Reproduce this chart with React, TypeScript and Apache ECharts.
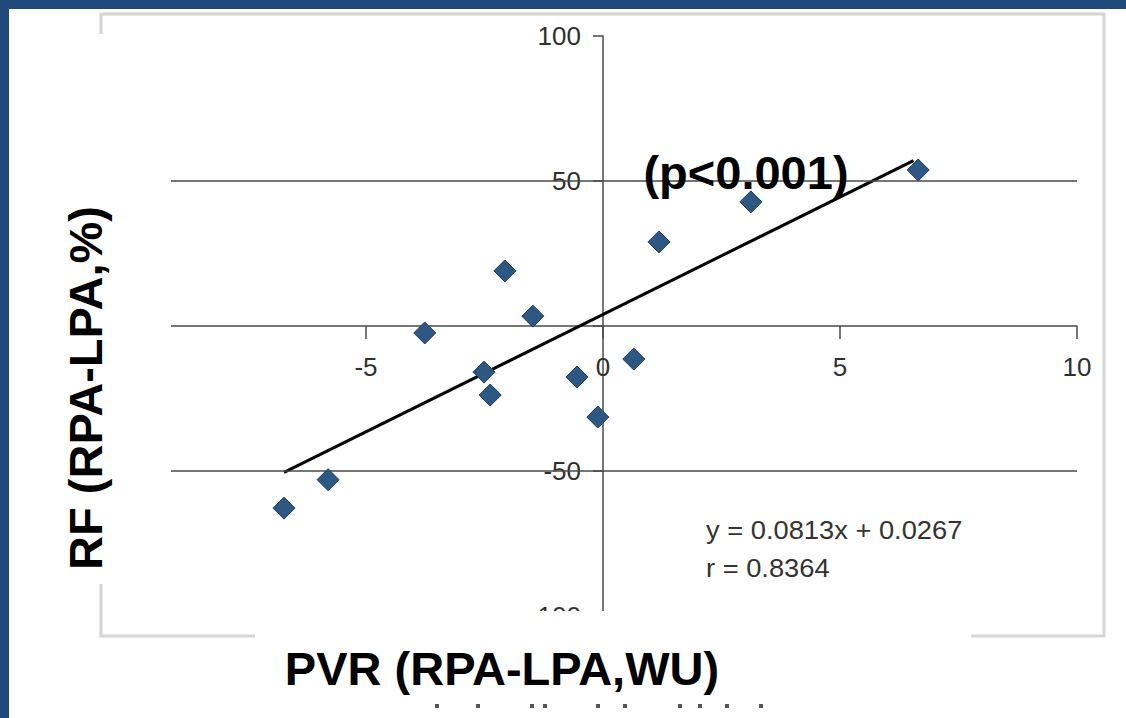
import React, { useEffect, useRef } from "react";
import * as echarts from "echarts";

// PVR difference (RPA-LPA, WU) and RF difference (RPA-LPA, %)
const pvrDiff = [-6.73, -5.8, -3.76, -2.07, -1.48, -2.51, -2.38, -0.55, -0.11, 0.65, 1.18, 3.12, 6.65];
const rfDiff = [-62.8, -53, -2.4, 19, 3.4, -15.9, -23.8, -17.6, -31.4, -11.4, 29, 42.8, 53.8];
// regression line end points (y = 0.0813x + 0.0267)
const trendX = [-6.73, 6.55];
const trendY = [-50.5, 57];
const gridLevels = [-50, 50];
const equationText = "y = 0.0813x + 0.0267";
const rText = "r = 0.8364";
const pText = "(p<0.001)";
const xTitle = "PVR (RPA-LPA,WU)";
const yTitle = "RF (RPA-LPA,%)";
// remnants of a cropped caption under the title
const crumbX = [437, 478, 532, 545, 598, 625, 680, 700, 727, 761];

const GRID = { left: 129, right: 49, top: 36, bottom: 102 };
const W = 1126;
const H = 718;

export default function App() {
  const ref = useRef<HTMLDivElement>(null);
  useEffect(() => {
    if (!ref.current) return;
    const chart = echarts.init(ref.current, null, { renderer: "svg" });
    const points = pvrDiff.map((x, i) => [x, rfDiff[i]]);
    const trend = trendX.map((x, i) => [x, trendY[i]]);
    const titleFont = 'bold 47px "Liberation Sans", Arial, sans-serif';
    const labelFont = '"Liberation Sans", Arial, sans-serif';
    // axes cross at the origin: shift each axis from the grid edge to the zero line
    const xMin = -10, xMax = 10, yMin = -100, yMax = 100;
    const plotW = W - GRID.left - GRID.right;
    const plotH = H - GRID.top - GRID.bottom;
    const yAxisOffset = -((0 - xMin) / (xMax - xMin)) * plotW;
    const xAxisOffset = -((0 - yMin) / (yMax - yMin)) * plotH;
    chart.setOption({
      animation: false,
      backgroundColor: "#ffffff",
      grid: { ...GRID, containLabel: false, outerBoundsMode: "none" },
      xAxis: {
        type: "value",
        min: xMin,
        max: xMax,
        interval: 5,
        position: "bottom",
        offset: xAxisOffset,
        axisLine: { onZero: false, lineStyle: { color: "#4a4a4a", width: 1.5 } },
        axisTick: { show: true, length: 13, lineStyle: { color: "#4a4a4a", width: 1.5 } },
        axisLabel: { margin: 28, color: "#2f2f2f", fontSize: 26, fontFamily: labelFont },
        splitLine: { show: false },
      },
      yAxis: {
        type: "value",
        min: yMin,
        max: yMax,
        interval: 50,
        position: "left",
        offset: yAxisOffset,
        axisLine: { onZero: false, lineStyle: { color: "#4a4a4a", width: 1.5 } },
        axisTick: { show: true, length: 10, lineStyle: { color: "#4a4a4a", width: 1.5 } },
        axisLabel: {
          margin: 22,
          color: "#2f2f2f",
          fontSize: 26,
          fontFamily: labelFont,
          formatter: (v: number) => (v === 0 ? "" : String(v)),
        },
        splitLine: { show: false },
      },
      series: [
        {
          type: "scatter",
          data: points,
          symbol: "diamond",
          symbolSize: 22,
          itemStyle: { color: "#2d5884", borderColor: "#1c3d60", borderWidth: 1, opacity: 1 },
          z: 5,
          markLine: {
            silent: true,
            symbol: "none",
            label: { show: false },
            lineStyle: { color: "#4a4a4a", width: 1.5, type: "solid" },
            data: gridLevels.map((v) => ({ yAxis: v })),
          },
        },
        {
          type: "line",
          data: trend,
          showSymbol: false,
          symbol: "none",
          lineStyle: { color: "#000", width: 3 },
          z: 4,
        },
      ],
      graphic: [
        {
          type: "rect",
          z: -1,
          shape: { x: 101, y: 14, width: 1003, height: 622 },
          style: { fill: "none", stroke: "#d6d6d6", lineWidth: 3 },
        },
        {
          type: "rect",
          z: 100,
          shape: { x: 20, y: 34, width: 151, height: 550 },
          style: { fill: "#ffffff" },
        },
        {
          type: "rect",
          z: 100,
          shape: { x: 255, y: 611, width: 716, height: 86 },
          style: { fill: "#ffffff" },
        },
        ...crumbX.map((cx) => ({
          type: "rect",
          z: 105,
          shape: { x: cx - 2, y: 704, width: 4, height: 4 },
          style: { fill: "#555" },
        })),
        {
          type: "text",
          z: 110,
          x: 85,
          y: 388,
          rotation: Math.PI / 2,
          style: { text: yTitle, font: titleFont, fill: "#000", textAlign: "center", textVerticalAlign: "middle" },
        },
        {
          type: "text",
          z: 110,
          x: 502,
          y: 668,
          style: { text: xTitle, font: titleFont, fill: "#000", textAlign: "center", textVerticalAlign: "middle" },
        },
        {
          type: "text",
          z: 110,
          x: 746,
          y: 172,
          style: { text: pText, font: titleFont, fill: "#000", textAlign: "center", textVerticalAlign: "middle" },
        },
        {
          type: "text",
          z: 110,
          x: 706,
          y: 530,
          scaleX: 1.05,
          style: { text: equationText, font: '26px "Liberation Sans", Arial, sans-serif', fill: "#333", textAlign: "left", textVerticalAlign: "middle" },
        },
        {
          type: "text",
          z: 110,
          x: 706,
          y: 568,
          scaleX: 1.05,
          style: { text: rText, font: '26px "Liberation Sans", Arial, sans-serif', fill: "#333", textAlign: "left", textVerticalAlign: "middle" },
        },
        {
          type: "rect",
          z: 200,
          shape: { x: 0, y: 0, width: W, height: 9 },
          style: { fill: "#1f497d" },
        },
        {
          type: "rect",
          z: 200,
          shape: { x: 0, y: 0, width: 9, height: H },
          style: { fill: "#1f497d" },
        },
      ],
    });
    return () => chart.dispose();
  }, []);
  return <div ref={ref} style={{ position: "fixed", left: 0, top: 0, width: W, height: H }} />;
}
